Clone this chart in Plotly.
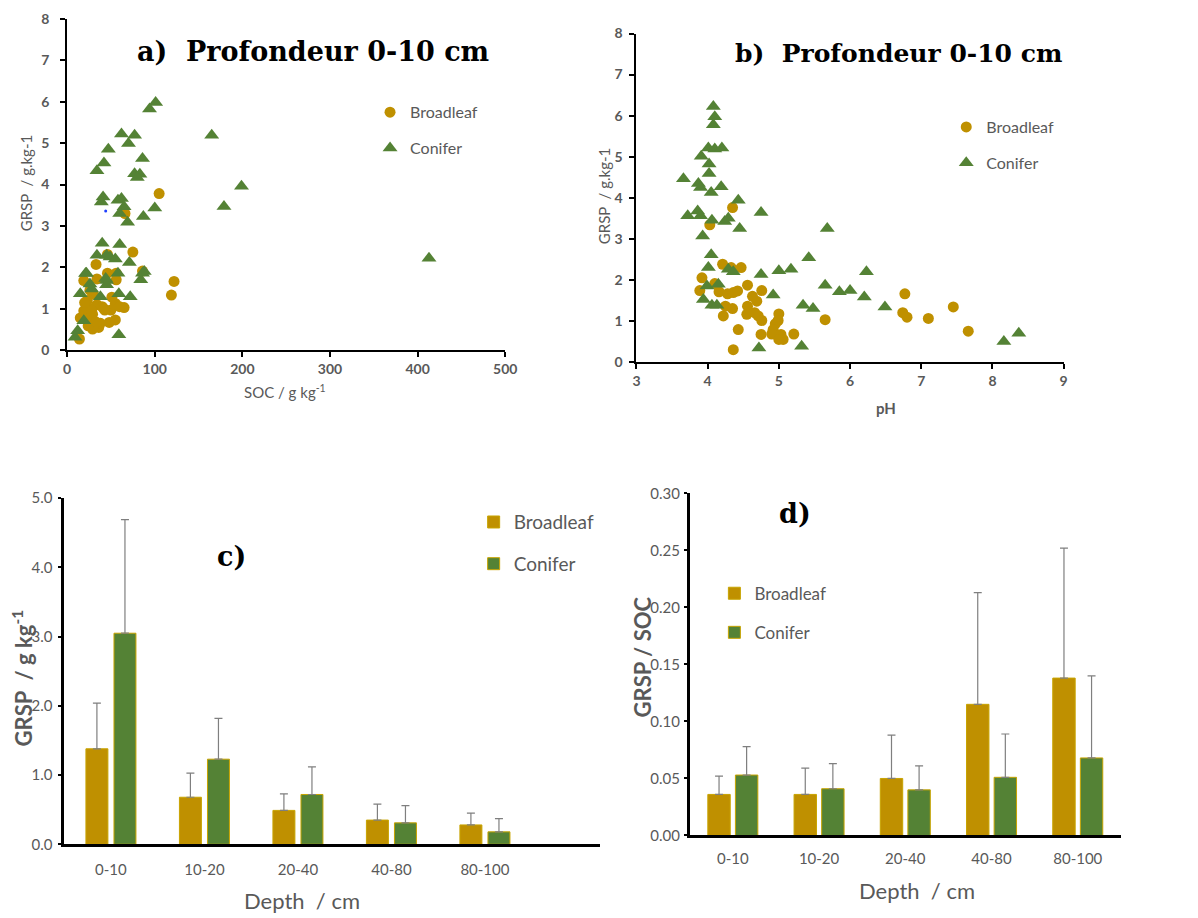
import plotly.graph_objects as go

W, H = 1198, 918


def px_x(p):
    return p / W


def px_y(p):
    return 1 - p / H


# ---------------- data ----------------
# panel a : GRSP vs SOC (0-10 cm)
a_bl_soc = [105, 75, 122, 119, 86, 33, 46, 46, 56, 56, 34, 19, 65, 55, 50, 43, 34, 24, 19, 15,
            26, 24, 29, 36, 48, 55, 14, 23, 29, 66, 51, 30, 28, 38, 20, 40, 33, 26, 60, 42]
a_bl_grsp = [3.78, 2.37, 1.66, 1.33, 1.91, 2.07, 2.31, 1.86, 1.86, 1.70, 1.72, 1.68, 1.03, 1.13,
             0.97, 0.97, 1.10, 1.03, 0.95, 0.78, 0.78, 0.59, 0.51, 0.55, 0.67, 0.73, 0.27, 1.20,
             0.87, 3.30, 1.28, 1.35, 0.95, 0.65, 1.15, 1.05, 0.68, 1.45, 1.05, 1.00]
a_co_soc = [101, 94, 165, 62, 77, 70, 47, 86, 42, 34, 77, 83, 80, 199, 41, 39, 58, 62, 65, 60,
            69, 87, 100, 179, 413, 40, 60, 34, 45, 49, 55, 71, 22, 58, 86, 84, 45, 26, 28, 45,
            15, 38, 59, 72, 19, 12, 9, 59, 21, 44, 88]
a_co_grsp = [5.98, 5.82, 5.19, 5.22, 5.19, 4.99, 4.85, 4.63, 4.52, 4.33, 4.26, 4.25, 4.17, 3.96,
             3.70, 3.58, 3.62, 3.66, 3.46, 3.30, 3.09, 3.23, 3.43, 3.47, 2.22, 2.58, 2.55, 2.29,
             2.29, 2.25, 2.20, 2.12, 1.86, 1.86, 1.86, 1.70, 1.68, 1.60, 1.48, 1.58, 1.36, 1.29,
             1.36, 1.29, 0.71, 0.47, 0.31, 0.37, 1.85, 1.73, 1.90]
a_dot_soc = [44]
a_dot_grsp = [3.36]

# panel b : GRSP vs pH (0-10 cm)
b_bl_ph = [4.35, 4.03, 4.21, 4.33, 4.47, 3.92, 3.89, 4.10, 4.16, 4.28, 4.36, 4.42, 4.56, 4.76,
           4.63, 4.69, 4.56, 4.25, 4.35, 4.22, 4.55, 4.66, 4.71, 4.76, 5.00, 4.99, 4.95, 4.92,
           4.90, 5.03, 5.06, 5.00, 5.21, 4.75, 4.43, 4.36, 5.65, 6.74, 6.80, 6.77, 7.10, 7.45,
           7.66]
b_bl_grsp = [3.76, 3.34, 2.38, 2.30, 2.30, 2.05, 1.74, 1.91, 1.71, 1.66, 1.69, 1.73, 1.87, 1.74,
             1.60, 1.48, 1.36, 1.36, 1.30, 1.12, 1.16, 1.20, 1.12, 1.01, 1.17, 1.01, 0.93, 0.79,
             0.68, 0.67, 0.55, 0.55, 0.68, 0.67, 0.79, 0.30, 1.03, 1.20, 1.09, 1.66, 1.06, 1.34,
             0.75]
b_co_ph = [4.08, 4.10, 4.08, 4.01, 4.10, 4.20, 3.91, 4.02, 4.02, 3.66, 3.87, 3.90, 4.19, 4.05,
           4.43, 3.72, 3.86, 3.90, 4.06, 4.24, 4.29, 4.75, 4.45, 3.93, 5.68, 4.05, 4.01, 4.29,
           4.36, 4.75, 5.00, 5.17, 5.42, 6.23, 3.99, 4.15, 3.94, 4.06, 4.13, 4.92, 5.65, 5.85,
           6.00, 6.20, 5.34, 5.48, 6.49, 4.72, 5.32, 8.16, 8.37]
b_co_grsp = [6.22, 5.97, 5.78, 5.21, 5.19, 5.21, 5.01, 4.82, 4.59, 4.46, 4.35, 4.25, 4.27, 4.13,
             3.94, 3.56, 3.68, 3.56, 3.45, 3.42, 3.50, 3.64, 3.25, 3.07, 3.25, 2.61, 2.30, 2.26,
             2.20, 2.13, 2.22, 2.26, 2.54, 2.20, 1.85, 1.89, 1.52, 1.38, 1.38, 1.63, 1.87, 1.71,
             1.74, 1.58, 1.38, 1.30, 1.34, 0.34, 0.38, 0.50, 0.70]

# panels c, d : means by depth (upper error bars)
depth = ["0-10", "10-20", "20-40", "40-80", "80-100"]
c_bl_mean = [1.38, 0.68, 0.49, 0.35, 0.28]
c_bl_err = [0.66, 0.35, 0.24, 0.23, 0.17]
c_co_mean = [3.05, 1.23, 0.72, 0.31, 0.18]
c_co_err = [1.64, 0.59, 0.40, 0.25, 0.19]
d_bl_mean = [0.036, 0.036, 0.050, 0.115, 0.138]
d_bl_err = [0.016, 0.023, 0.038, 0.098, 0.114]
d_co_mean = [0.053, 0.041, 0.040, 0.051, 0.068]
d_co_err = [0.025, 0.022, 0.021, 0.038, 0.072]

# ---------------- style ----------------
GOLD = "#BF9000"
GREEN = "#548235"
GREY = "#595959"
EDGE = "#C8A400"
SANS = "Lato"
SERIF = "DejaVu Serif"

# bar geometry (category units)
C_W, C_GAP = 0.235, 0.065
D_W, D_GAP = 0.26, 0.06

fig = go.Figure()

# panel a
fig.add_trace(go.Scatter(x=a_bl_soc, y=a_bl_grsp, mode="markers", name="Broadleaf",
                         marker=dict(symbol="circle", size=11, color=GOLD),
                         xaxis="x", yaxis="y", legend="legend", legendgroup="a1"))
fig.add_trace(go.Scatter(x=a_co_soc, y=a_co_grsp, mode="markers", name="Conifer",
                         marker=dict(symbol="triangle-up", size=13, color=GREEN),
                         xaxis="x", yaxis="y", legend="legend", legendgroup="a2"))
fig.add_trace(go.Scatter(x=a_dot_soc, y=a_dot_grsp, mode="markers", showlegend=False,
                         marker=dict(size=3, color="#1f3fff"), xaxis="x", yaxis="y",
                         hoverinfo="skip"))

# panel b
fig.add_trace(go.Scatter(x=b_bl_ph, y=b_bl_grsp, mode="markers", name="Broadleaf",
                         marker=dict(symbol="circle", size=11, color=GOLD),
                         xaxis="x2", yaxis="y2", legend="legend2", legendgroup="b1"))
fig.add_trace(go.Scatter(x=b_co_ph, y=b_co_grsp, mode="markers", name="Conifer",
                         marker=dict(symbol="triangle-up", size=13, color=GREEN),
                         xaxis="x2", yaxis="y2", legend="legend2", legendgroup="b2"))

err_style = dict(type="data", symmetric=False, color="#7F7F7F", thickness=1.2, width=4)

# panel c
fig.add_trace(go.Bar(x=depth, y=c_bl_mean, name="Broadleaf", width=C_W, offset=-(C_W + C_GAP / 2),
                     marker=dict(color=GOLD, line=dict(color=EDGE, width=1)),
                     error_y=dict(array=c_bl_err, arrayminus=[0] * 5, **err_style),
                     xaxis="x3", yaxis="y3", legend="legend3", legendgroup="c1"))
fig.add_trace(go.Bar(x=depth, y=c_co_mean, name="Conifer", width=C_W, offset=C_GAP / 2,
                     marker=dict(color=GREEN, line=dict(color=EDGE, width=1)),
                     error_y=dict(array=c_co_err, arrayminus=[0] * 5, **err_style),
                     xaxis="x3", yaxis="y3", legend="legend3", legendgroup="c2"))

# panel d
fig.add_trace(go.Bar(x=depth, y=d_bl_mean, name="Broadleaf", width=D_W, offset=-(D_W + D_GAP / 2),
                     marker=dict(color=GOLD, line=dict(color=EDGE, width=1)),
                     error_y=dict(array=d_bl_err, arrayminus=[0] * 5, **err_style),
                     xaxis="x4", yaxis="y4", legend="legend4", legendgroup="d1"))
fig.add_trace(go.Bar(x=depth, y=d_co_mean, name="Conifer", width=D_W, offset=D_GAP / 2,
                     marker=dict(color=GREEN, line=dict(color=EDGE, width=1)),
                     error_y=dict(array=d_co_err, arrayminus=[0] * 5, **err_style),
                     xaxis="x4", yaxis="y4", legend="legend4", legendgroup="d2"))

scat_axis = dict(showline=True, linecolor="#000000", linewidth=2, ticks="outside", ticklen=5,
                 tickwidth=1.5, tickcolor="#000000", showgrid=False, zeroline=False,
                 tickfont=dict(family=SANS, size=14, color=GREY, weight="bold"), fixedrange=True)
bar_y = dict(showline=True, linecolor="#000000", linewidth=2.5, ticks="outside", ticklen=3,
             tickwidth=1.5, tickcolor="#000000", showgrid=False, zeroline=False,
             tickfont=dict(family=SANS, size=15, color=GREY), fixedrange=True)
bar_x = dict(showline=True, linecolor="#000000", linewidth=2.5, ticks="", showgrid=False,
             zeroline=False, tickfont=dict(family=SANS, size=15, color=GREY), fixedrange=True,
             type="category")

fig.update_layout(
    width=W, height=H, autosize=False,
    margin=dict(l=0, r=0, t=0, b=0),
    paper_bgcolor="white", plot_bgcolor="white",
    barmode="overlay",
    xaxis=dict(domain=[px_x(64), px_x(508)], range=[0, 500], dtick=100, anchor="y", **scat_axis),
    yaxis=dict(domain=[px_y(347), px_y(9)], range=[0, 8], dtick=1, anchor="x",
               ticklabelstandoff=8, **scat_axis),
    xaxis2=dict(domain=[px_x(641), px_x(1074)], range=[3, 9], dtick=1, anchor="y2", **scat_axis),
    yaxis2=dict(domain=[px_y(359), px_y(24)], range=[0, 8], dtick=1, anchor="x2",
                ticklabelstandoff=4, **scat_axis),
    xaxis3=dict(domain=[px_x(61), px_x(604)], range=[-0.5, 5.23], anchor="y3",
                ticklabelstandoff=10, **bar_x),
    yaxis3=dict(domain=[px_y(851), px_y(498)], range=[0, 5], dtick=1, tickformat=".1f",
                anchor="x3", ticklabelstandoff=3, **bar_y),
    xaxis4=dict(domain=[px_x(695), px_x(1132)], range=[-0.5, 4.5], anchor="y4",
                ticklabelstandoff=8, **bar_x),
    yaxis4=dict(domain=[px_y(842), px_y(493)], range=[0, 0.30], dtick=0.05, tickformat=".2f",
                anchor="x4", ticklabelstandoff=1, **bar_y),
    legend=dict(x=px_x(371), y=px_y(87), xanchor="left", yanchor="top", bgcolor="rgba(0,0,0,0)",
                font=dict(family=SANS, size=16, color=GREY), tracegroupgap=12),
    legend2=dict(x=px_x(955), y=px_y(102), xanchor="left", yanchor="top", bgcolor="rgba(0,0,0,0)",
                 font=dict(family=SANS, size=16, color=GREY), tracegroupgap=12),
    legend3=dict(x=px_x(476), y=px_y(503), xanchor="left", yanchor="top", bgcolor="rgba(0,0,0,0)",
                 font=dict(family=SANS, size=19, color=GREY), tracegroupgap=14),
    legend4=dict(x=px_x(720), y=px_y(577), xanchor="left", yanchor="top", bgcolor="rgba(0,0,0,0)",
                 font=dict(family=SANS, size=17, color=GREY), tracegroupgap=14),
)

ann = []


def add_text(text, x, y, size, color="#000000", family=SANS, weight="normal", angle=0):
    ann.append(dict(text=text, x=px_x(x), y=px_y(y), xref="paper", yref="paper",
                    xanchor="center", yanchor="middle", showarrow=False, textangle=angle,
                    font=dict(family=family, size=size, color=color, weight=weight)))


add_text("a)\u00a0\u00a0Profondeur 0-10 cm", 313, 42, 27, family=SERIF, weight="bold")
add_text("b)\u00a0\u00a0Profondeur 0-10 cm", 907, 44, 25, family=SERIF, weight="bold")
add_text("c)", 231, 557, 27, family=SERIF, weight="bold")
add_text("d)", 802, 514, 27, family=SERIF, weight="bold")
add_text("GRSP\u00a0\u00a0/ g.kg-1", 22, 177, 15, color=GREY, angle=-90)
add_text("SOC / g kg<sup>-1</sup>", 285, 389, 15, color=GREY)
add_text("GRSP\u00a0\u00a0/ g.kg-1", 608, 190, 15, color=GREY, angle=-90)
add_text("pH", 894, 406, 15, color=GREY, weight="bold")
add_text("GRSP\u00a0\u00a0/ g kg<sup>-1</sup>", 19, 681, 22, color=GREY, weight="bold", angle=-90)
add_text("Depth\u00a0\u00a0/ cm", 302, 908, 22, color=GREY)
add_text("GRSP / SOC", 647, 660, 22, color=GREY, weight="bold", angle=-90)
add_text("Depth\u00a0\u00a0/ cm", 925, 898, 22, color=GREY)

fig.update_layout(annotations=ann)

fig.write_html("out.html")
